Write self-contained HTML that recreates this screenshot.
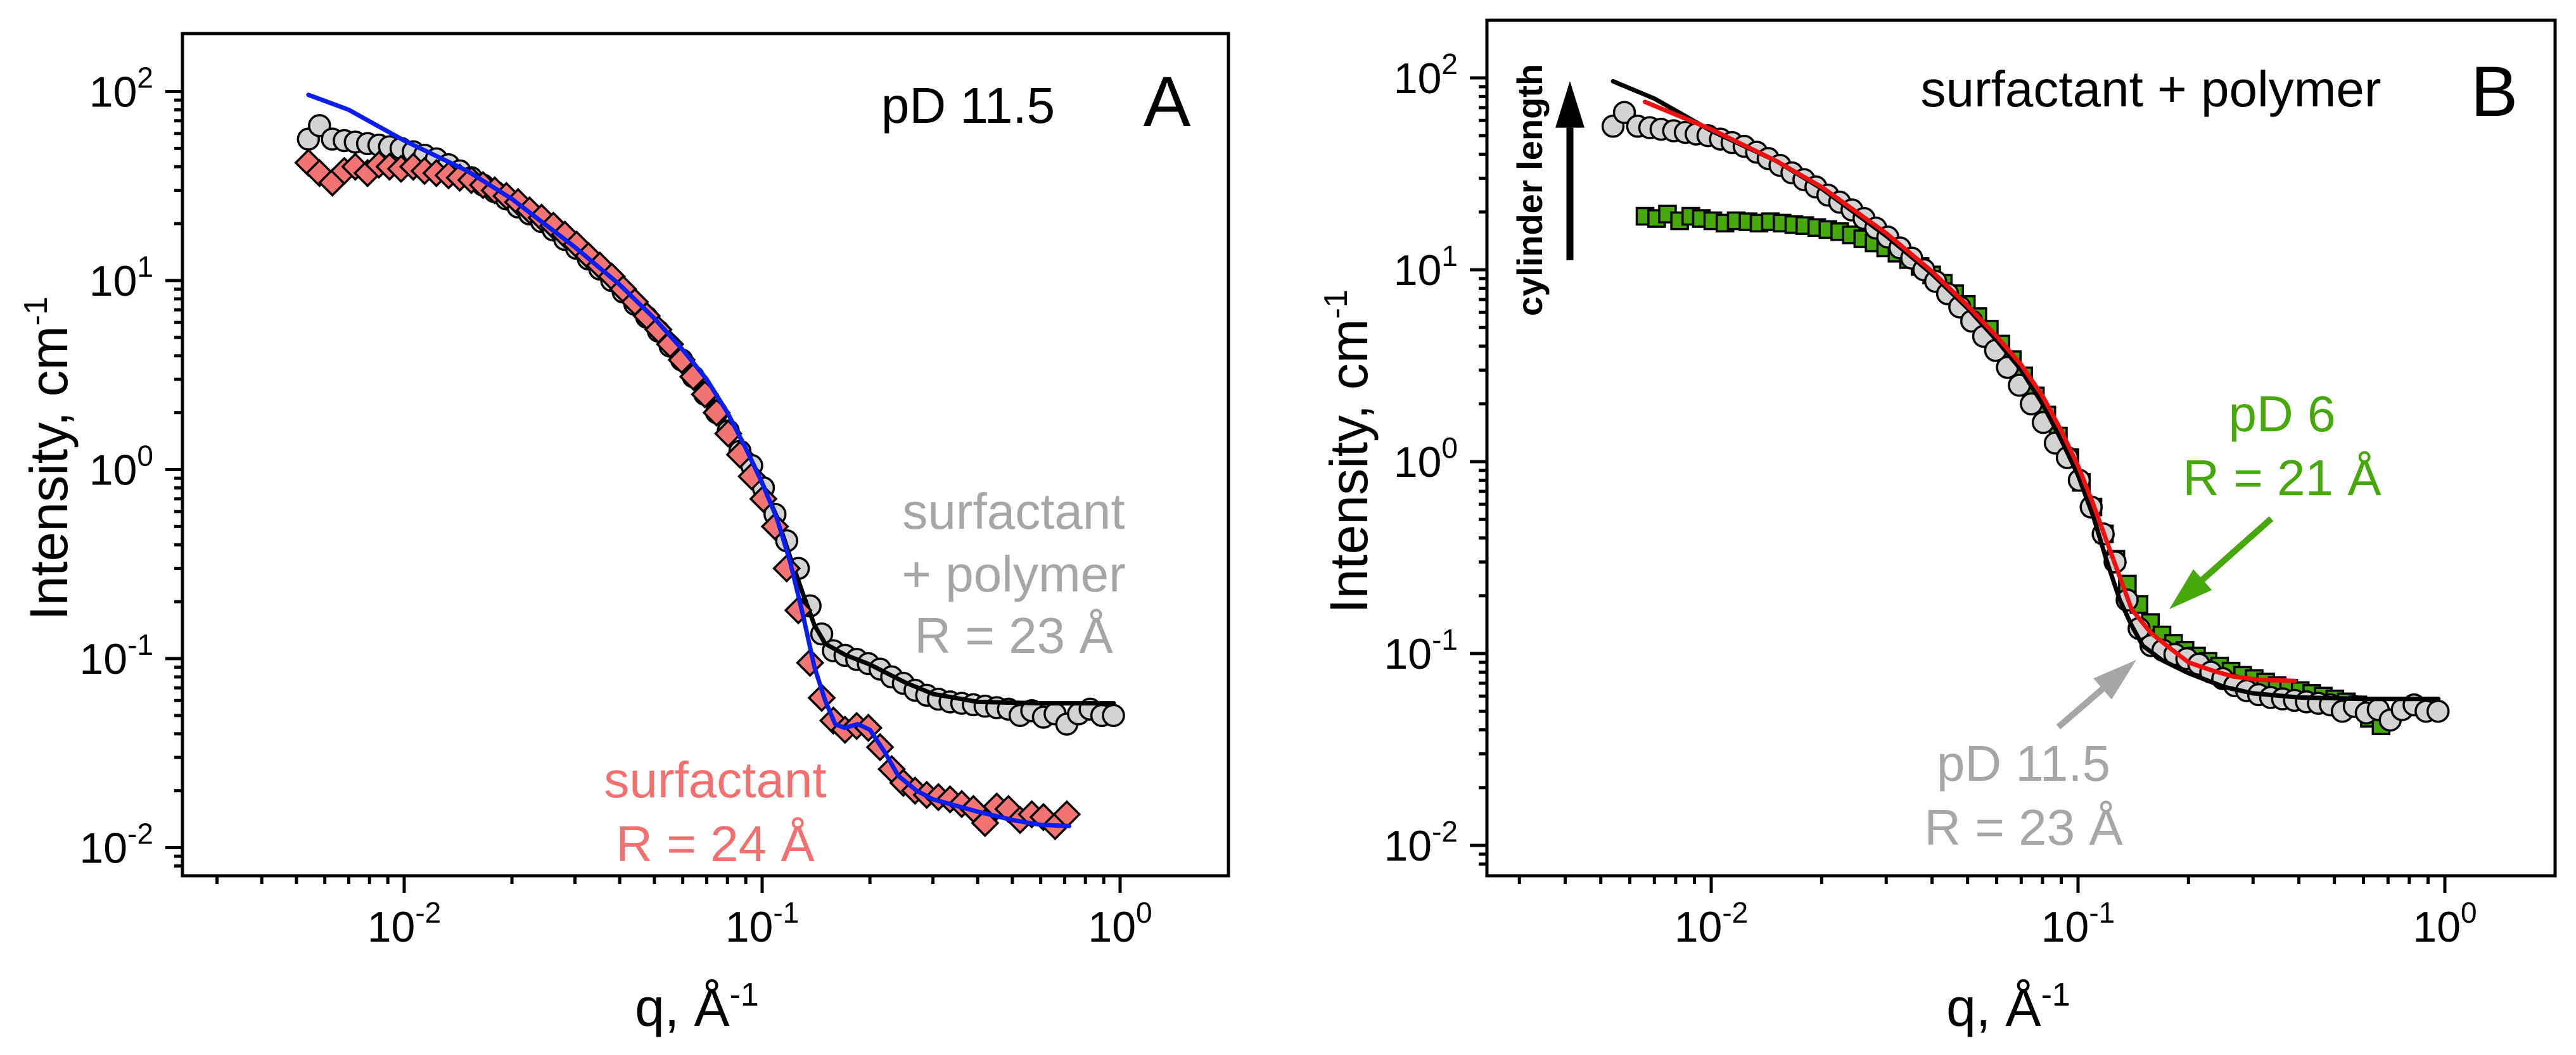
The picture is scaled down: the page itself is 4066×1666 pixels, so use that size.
<!DOCTYPE html>
<html><head><meta charset="utf-8"><style>
html,body{margin:0;padding:0;background:#fff;}
svg{display:block;font-family:"Liberation Sans",Arial,sans-serif;}
</style></head><body>
<svg id="chart" width="4066" height="1666" viewBox="0 0 4066 1666" xmlns="http://www.w3.org/2000/svg">
<g id="layerA"></g>
<g id="layerB"></g>
</svg>
<script>
// ---------- Data ----------
const qA = [0.0054,0.0058,0.0063,0.0068,0.0073,0.0079,0.0085,0.0091,0.0098,0.0106,0.0114,0.0123,0.0133,0.0143,0.0154,0.0166,0.0179,0.0193,0.0208,0.0224,0.0242,0.0261,0.0281,0.0303,0.0327,0.0352,0.0380,0.0409,0.0441,0.0476,0.0513,0.0553,0.0596,0.0642,0.0692,0.0746,0.0804,0.0867,0.0935,0.1008,0.1086,0.1171,0.1262,0.1361,0.1467,0.1581,0.1704,0.1837,0.1980,0.2135,0.2301,0.2480,0.2674,0.2882,0.3107,0.3349,0.3610,0.3892,0.4195,0.4522,0.4875,0.5255,0.5665,0.6107,0.6583,0.7096,0.7650,0.8246,0.8889,0.9582];
const greyI = [56,66,56,55,54,53,52,51,50,48,46,44,41,38,35,32,29.5,27,24.5,22.5,20.5,18.5,16.5,14.8,13,11.5,10,8.7,7.5,6.4,5.4,4.5,3.8,3.1,2.5,2.0,1.6,1.25,1.05,0.8,0.58,0.42,0.30,0.19,0.135,0.11,0.104,0.099,0.094,0.088,0.080,0.074,0.068,0.064,0.061,0.059,0.058,0.057,0.056,0.055,0.054,0.050,0.053,0.049,0.051,0.045,0.051,0.054,0.050,0.050];
const redI = [42,37,33,38,40,37,41,40,39,40,38,37,36,35,34,32,30,28,26,23.5,21.5,19.5,17.5,15.5,13.5,12,10.5,9,7.7,6.5,5.5,4.6,3.8,3.1,2.5,2.0,1.55,1.2,0.92,0.7,0.5,0.3,0.18,0.095,0.062,0.047,0.042,0.044,0.043,0.034,0.026,0.022,0.020,0.019,0.0185,0.018,0.017,0.016,0.0135,0.0165,0.016,0.014,0.015,0.0145,0.013,0.015];
const blueFitQ = [0.0054,0.007,0.01,0.015,0.02,0.03,0.04,0.05,0.06,0.07,0.08,0.09,0.1,0.11,0.12,0.13,0.14,0.15,0.16,0.17,0.185,0.2,0.22,0.24,0.27,0.3,0.4,0.5,0.6,0.72];
const blueFitI = [96,80,55,38,27,15,9.5,6.3,4.3,3.0,2.0,1.3,0.85,0.55,0.32,0.17,0.09,0.06,0.045,0.043,0.045,0.042,0.032,0.024,0.020,0.018,0.0155,0.014,0.0132,0.013];
const blackFitAQ = [0.09,0.1,0.11,0.12,0.13,0.14,0.15,0.17,0.2,0.25,0.3,0.4,0.6,0.96];
const blackFitAI = [1.3,0.85,0.56,0.34,0.22,0.15,0.12,0.105,0.093,0.075,0.065,0.059,0.058,0.058];

const qB = qA.slice();
const greyBI = greyI.slice();
const qGreen = [0.0066,0.0071,0.0076,0.0082,0.0088,0.0094,0.0101,0.0109,0.0117,0.0126,0.0135,0.0145,0.0156,0.0168,0.0180,0.0194,0.0208,0.0224,0.0241,0.0259,0.0278,0.0299,0.0321,0.0345,0.0371,0.0399,0.0429,0.0461,0.0496,0.0533,0.0573,0.0616,0.0662,0.0711,0.0765,0.0822,0.0884,0.0950,0.1021,0.1098,0.1180,0.1268,0.1363,0.1466,0.1576,0.1694,0.1821,0.1957,0.2104,0.2262,0.2432,0.2614,0.2810,0.3021,0.3247,0.3491,0.3753,0.4034,0.4337,0.4662,0.5012,0.5388,0.5792,0.6226,0.6700];
const greenI = [19,18.5,19.5,18,19,18.5,18,17.5,18,17.8,17.5,17.8,17.5,17.2,17,16.6,16.2,15.8,15.2,14.5,13.8,13,12.2,11.3,10.4,9.4,8.5,7.5,6.6,5.7,4.9,4.1,3.4,2.8,2.2,1.75,1.36,1.05,0.78,0.58,0.42,0.31,0.23,0.18,0.145,0.125,0.113,0.104,0.097,0.091,0.086,0.081,0.077,0.074,0.071,0.068,0.066,0.064,0.062,0.060,0.058,0.056,0.054,0.046,0.042];
const redFitBQ = [0.0066,0.01,0.015,0.02,0.03,0.04,0.05,0.06,0.07,0.08,0.09,0.1,0.11,0.12,0.13,0.14,0.158,0.18,0.2,0.23,0.264,0.31,0.39];
const redFitBI = [75,54,37,27,15.5,9.8,6.5,4.5,3.2,2.2,1.45,0.95,0.6,0.38,0.25,0.17,0.128,0.105,0.09,0.082,0.076,0.073,0.072];
const blackFitBQ = [0.0054,0.007,0.01,0.015,0.02,0.03,0.04,0.05,0.06,0.07,0.08,0.09,0.1,0.11,0.12,0.13,0.14,0.15,0.17,0.2,0.25,0.3,0.4,0.6,0.96];
const blackFitBI = [96,78,53,37,26.5,15,9.5,6.3,4.3,3.0,2.0,1.3,0.85,0.52,0.3,0.19,0.14,0.11,0.092,0.079,0.067,0.062,0.059,0.058,0.058];

const xTickExps = [-2,-1,0];
const yTickExps = [-2,-1,0,1,2];

// ---------- helpers ----------
const NS = "http://www.w3.org/2000/svg";
function mk(tag, attrs, parent){ const e=document.createElementNS(NS,tag); for(const k in attrs) e.setAttribute(k,attrs[k]); parent.appendChild(e); return e; }
function L(v){ return Math.log10(v); }

const panels = {
  A:{g:document.getElementById('layerA'), left:288, right:1939, top:53, bottom:1383, x0:1768, xd:565, y0:741.5, yd:298.5},
  B:{g:document.getElementById('layerB'), left:2347, right:4033, top:32, bottom:1383, x0:3859, xd:579, y0:729, yd:303}
};
function X(p,q){ return p.x0 + p.xd*L(q); }
function Y(p,v){ return p.y0 - p.yd*L(v); }

function drawAxes(p, key){
  const g = p.g;
  const fr = mk('rect',{x:p.left,y:p.top,width:p.right-p.left,height:p.bottom-p.top,fill:'none',stroke:'#000','stroke-width':5},g);
  
  
  for(let e=-3;e<=0;e++){
    for(let m=1;m<=9;m++){
      const q=m*Math.pow(10,e); const x=X(p,q);
      if(x<p.left+3||x>p.right-3) continue;
      const len = m===1?27:13;
      const t=mk('line',{x1:x,y1:p.bottom,x2:x,y2:p.bottom+len,stroke:'#000','stroke-width':5},g);
      
      
    }
  }
  xTickExps.forEach(e=>{
    const x=X(p,Math.pow(10,e));
    const t=mk('text',{x:x,y:1487,'font-size':68,'text-anchor':'middle'},g);
    
    
    t.innerHTML='10<tspan font-size="46" dy="-30">'+e+'</tspan>';
  });
  for(let e=-3;e<=2;e++){
    for(let m=1;m<=9;m++){
      const v=m*Math.pow(10,e); const y=Y(p,v);
      if(y<p.top+3||y>p.bottom-3) continue;
      const len = m===1?27:13;
      const t=mk('line',{x1:p.left-len,y1:y,x2:p.left,y2:y,stroke:'#000','stroke-width':5},g);
      
      
    }
  }
  yTickExps.forEach(e=>{
    const y=Y(p,Math.pow(10,e));
    const t=mk('text',{x:p.left-46,y:y+24,'font-size':68,'text-anchor':'end'},g);
    
    
    t.innerHTML='10<tspan font-size="46" dy="-30">'+e+'</tspan>';
  });
}

function drawLine(p, qs, vs, color, w, name){
  const d = qs.map((q,i)=>(i?'L':'M')+X(p,q).toFixed(1)+' '+Y(p,vs[i]).toFixed(1)).join(' ');
  const e=mk('path',{d:d,fill:'none',stroke:color,'stroke-width':w,'stroke-linejoin':'round','stroke-linecap':'round'},p.g);
  
  
}
function drawMarkers(p, qs, vs, shape, fill, name){
  const grp=mk('g',{},p.g);
  
  
  qs.forEach((q,i)=>{
    const x=X(p,q), y=Y(p,vs[i]); let e;
    if(shape==='circle') e=mk('circle',{cx:x,cy:y,r:16.5,fill:fill,stroke:'#000','stroke-width':3.5},grp);
    else if(shape==='diamond'){ const s=20; e=mk('polygon',{points:`${x},${y-s} ${x+s},${y} ${x},${y+s} ${x-s},${y}`,fill:fill,stroke:'#000','stroke-width':3.5},grp); }
    else { const s=13; e=mk('rect',{x:x-s,y:y-s,width:2*s,height:2*s,fill:fill,stroke:'#000','stroke-width':3.5},grp); }
    
    
  });
}
function txt(g, x, y, s, size, color, name, extra){
  const t=mk('text',Object.assign({x:x,y:y,'font-size':size,fill:color,'text-anchor':'middle'},extra||{}),g);
  
  
  t.innerHTML=s; return t;
}
function arrow(g, x1,y1,x2,y2,color,w,head,name){
  const ang=Math.atan2(y2-y1,x2-x1), hl=head*1.6;
  const bx=x2-hl*Math.cos(ang), by=y2-hl*Math.sin(ang);
  const grp=mk('g',{},g);
  
  
  mk('line',{x1:x1,y1:y1,x2:bx,y2:by,stroke:color,'stroke-width':w},grp);
  const px=-Math.sin(ang)*head*0.5, py=Math.cos(ang)*head*0.5;
  mk('polygon',{points:`${x2},${y2} ${bx+px},${by+py} ${bx-px},${by-py}`,fill:color},grp);
}

// ---------- Panel A ----------
const A=panels.A;
drawAxes(A,'A');
drawMarkers(A,qA,greyI,'circle','#d3d3d3','surfactant-polymer-circles-a');
drawLine(A,blackFitAQ,blackFitAI,'#000',7,'surfactant-polymer-fit-a');
drawMarkers(A,qA.slice(0,redI.length),redI,'diamond','#f47474','surfactant-diamonds');
drawLine(A,blueFitQ,blueFitI,'#0a1ef0',7,'surfactant-fit');
txt(A.g,1528,194,'pD 11.5',80,'#000','condition-label-a');
txt(A.g,1842,199,'A',112,'#000','panel-letter-a');
txt(A.g,1600,835,'surfactant',80,'#a6a6a6','grey-label-a-1');
txt(A.g,1600,934,'+ polymer',80,'#a6a6a6','grey-label-a-2');
txt(A.g,1600,1031,'R = 23 Å',80,'#a6a6a6','grey-label-a-3');
txt(A.g,1129,1259,'surfactant',80,'#f47070','red-label-1');
txt(A.g,1129,1360,'R = 24 Å',80,'#f47070','red-label-2');
txt(A.g,0,0,'Intensity, cm<tspan font-size="52" dy="-32">-1</tspan>',84,'#000','y-axis-title-a',{transform:'translate(106,724) rotate(-90)'});
txt(A.g,1100,1620,'q, Å<tspan font-size="52" dy="-32">-1</tspan>',84,'#000','x-axis-title-a');

// ---------- Panel B ----------
const B=panels.B;
drawAxes(B,'B');
drawMarkers(B,qGreen,greenI,'square','#46a80a','ph6-squares');
drawMarkers(B,qB,greyBI,'circle','#d3d3d3','ph11-circles-b');
drawLine(B,blackFitBQ,blackFitBI,'#000',7,'ph11-fit-b');
drawLine(B,redFitBQ,redFitBI,'#f01010',7,'ph6-fit');
txt(B.g,3395,168,'surfactant + polymer',80,'#000','condition-label-b');
txt(B.g,3937,183,'B',112,'#000','panel-letter-b');
txt(B.g,0,0,'cylinder length',56,'#000','arrow-label',{transform:'translate(2434,300) rotate(-90)','font-weight':'bold'});
arrow(B.g,2478,411,2478,128,'#000',11,46,'cylinder-length-arrow');
txt(B.g,3602,681,'pD 6',80,'#46a80a','green-label-1');
txt(B.g,3602,782,'R = 21 Å',80,'#46a80a','green-label-2');
arrow(B.g,3585,819,3424,962,'#46a80a',10,44,'green-arrow');
txt(B.g,3194,1233,'pD 11.5',80,'#a6a6a6','grey-label-b-1');
txt(B.g,3194,1334,'R = 23 Å',80,'#a6a6a6','grey-label-b-2');
arrow(B.g,3249,1148,3372,1042,'#a6a6a6',10,44,'grey-arrow');
txt(B.g,0,0,'Intensity, cm<tspan font-size="52" dy="-32">-1</tspan>',84,'#000','y-axis-title-b',{transform:'translate(2158,713) rotate(-90)'});
txt(B.g,3170,1620,'q, Å<tspan font-size="52" dy="-32">-1</tspan>',84,'#000','x-axis-title-b');
</script>
</body></html>
